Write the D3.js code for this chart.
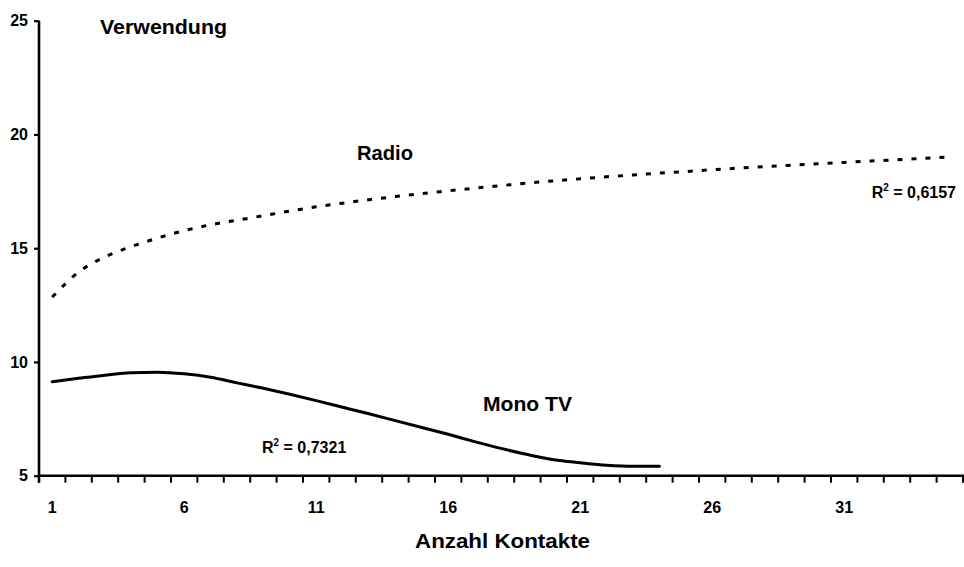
<!DOCTYPE html>
<html>
<head>
<meta charset="utf-8">
<script src="https://cdn.jsdelivr.net/npm/d3@7"></script>
<style>
  html, body { margin: 0; padding: 0; background: #fff; }
  svg { display: block; font-family: "Liberation Sans", Arial, sans-serif; }
  text { fill: #000; font-weight: bold; }
</style>
</head>
<body>
<svg id="chart" width="964" height="567"></svg>
<script>
// ---- data ----
const categories = d3.range(1, 36);            // Anzahl Kontakte 1..35
const xTickLabels = [1, 6, 11, 16, 21, 26, 31];
const yTicks = [5, 10, 15, 20, 25];
const radioValues = [12.85, 13.95, 14.62, 15.07, 15.45, 15.77, 16.03, 16.23, 16.43, 16.63,
                     16.82, 16.98, 17.13, 17.27, 17.40, 17.52, 17.64, 17.75, 17.86, 17.96,
                     18.05, 18.14, 18.22, 18.30, 18.37, 18.45, 18.52, 18.59, 18.65, 18.71,
                     18.77, 18.83, 18.89, 18.95, 19.01];
const monoTvValues = [9.13, 9.28, 9.42, 9.52, 9.55, 9.48, 9.33, 9.08, 8.84, 8.58,
                      8.30, 8.01, 7.72, 7.42, 7.12, 6.82, 6.50, 6.20, 5.93, 5.70,
                      5.57, 5.46, 5.41, 5.41];
const radioR2 = "0,6157";
const monoTvR2 = "0,7321";

// ---- layout ----
const svg = d3.select("#chart");
const x0 = 39, x1 = 39 + 35 * 26.4;
const yTop = 20.7, yBottom = 475.7;

const x = d3.scaleBand().domain(categories).range([x0, x1]).paddingInner(0).paddingOuter(0);
const y = d3.scaleLinear().domain([5, 25]).range([yBottom, yTop]);
const cx = c => x(c) + x.bandwidth() / 2;

// x axis: ticks between categories
const xAxisG = svg.append("g");
xAxisG.append("line")
  .attr("x1", x0 - 1).attr("x2", 964).attr("y1", yBottom).attr("y2", yBottom)
  .attr("stroke", "#000").attr("stroke-width", 2.6);
xAxisG.selectAll("line.tick")
  .data(categories.concat([36]))
  .enter().append("line").attr("class", "tick")
  .attr("x1", c => x0 + (c - 1) * x.bandwidth())
  .attr("x2", c => x0 + (c - 1) * x.bandwidth())
  .attr("y1", yBottom).attr("y2", yBottom + 7)
  .attr("stroke", "#000").attr("stroke-width", 2);
xAxisG.selectAll("text.xl")
  .data(xTickLabels)
  .enter().append("text").attr("class", "xl")
  .attr("x", c => cx(c)).attr("y", 513)
  .attr("text-anchor", "middle").attr("font-size", 16)
  .text(d => d);

// y axis
const yAxis = d3.axisLeft(y).tickValues(yTicks).tickSize(5).tickPadding(6).tickFormat(d3.format("d"));
const yAxisG = svg.append("g").attr("transform", `translate(${x0},0)`).call(yAxis);
yAxisG.select(".domain").attr("stroke", "#000").attr("stroke-width", 2.6)
  .attr("d", `M-0,${yTop}V${yBottom + 7}`);
yAxisG.selectAll(".tick line").attr("stroke", "#000").attr("stroke-width", 2.2);
yAxisG.selectAll(".tick text").attr("font-size", 16).attr("font-weight", "bold")
  .attr("font-family", "Liberation Sans, Arial, sans-serif").attr("fill", "#000");

// lines
const line = d3.line().x((d, i) => cx(categories[i])).y(d => y(d)).curve(d3.curveMonotoneX);
svg.append("path").datum(radioValues)
  .attr("d", line).attr("fill", "none").attr("stroke", "#000")
  .attr("stroke-width", 3).attr("stroke-dasharray", "5,9");
svg.append("path").datum(monoTvValues)
  .attr("d", line).attr("fill", "none").attr("stroke", "#000")
  .attr("stroke-width", 3).attr("stroke-linecap", "round");

// labels
svg.append("text").attr("x", 100).attr("y", 34).attr("font-size", 20)
  .attr("textLength", 127).attr("lengthAdjust", "spacingAndGlyphs").text("Verwendung");
svg.append("text").attr("x", 357).attr("y", 160).attr("font-size", 20)
  .attr("textLength", 56).attr("lengthAdjust", "spacingAndGlyphs").text("Radio");
svg.append("text").attr("x", 483).attr("y", 411).attr("font-size", 20)
  .attr("textLength", 89).attr("lengthAdjust", "spacingAndGlyphs").text("Mono TV");
svg.append("text").attr("x", 415).attr("y", 548).attr("font-size", 20)
  .attr("textLength", 175).attr("lengthAdjust", "spacingAndGlyphs").text("Anzahl Kontakte");

function r2Label(xPos, yPos, val, anchor) {
  const t = svg.append("text").attr("x", xPos).attr("y", yPos).attr("font-size", 16)
    .attr("text-anchor", anchor);
  t.append("tspan").text("R");
  t.append("tspan").attr("font-size", 10).attr("dy", -7).text("2");
  t.append("tspan").attr("dy", 7).text(" = " + val);
}
r2Label(262, 453, monoTvR2, "start");
r2Label(956, 198, radioR2, "end");
</script>
</body>
</html>
